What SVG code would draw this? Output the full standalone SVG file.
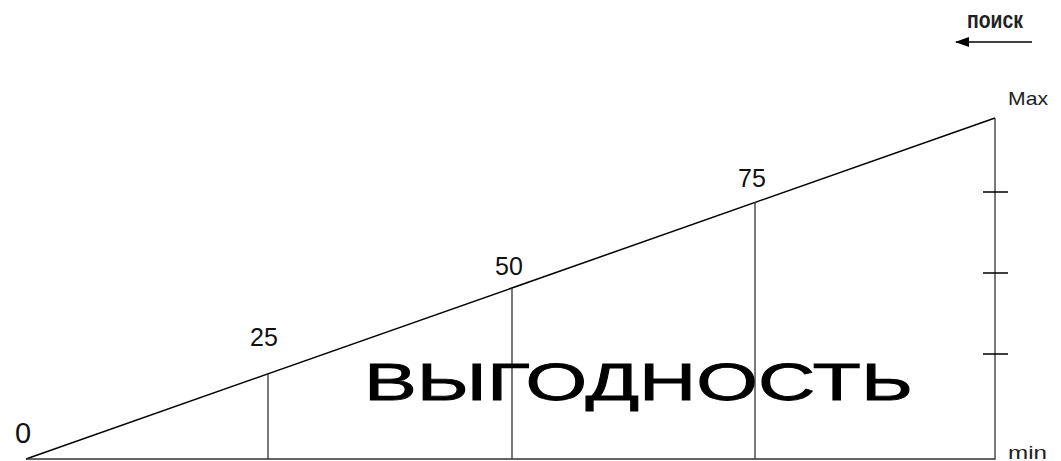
<svg xmlns="http://www.w3.org/2000/svg" width="1061" height="461" viewBox="0 0 1061 461">
<style>
.ln{stroke:#000;stroke-width:1.5;fill:none}
.gl{stroke:#333;stroke-width:1.3;fill:none}
.lbl{font-family:"Liberation Sans",Arial,sans-serif;font-size:25px;fill:#111}
.sm{font-family:"Liberation Sans",Arial,sans-serif;font-size:19px;fill:#222}
</style>
<defs>
<marker id="ah" markerWidth="14" markerHeight="10" refX="13" refY="5" orient="auto" markerUnits="userSpaceOnUse">
<path d="M0,0 L14,5 L0,10 Z" fill="#000"/>
</marker>
</defs>
<rect width="1061" height="461" fill="#fff"/>
<g id="connectors">
<path class="ln" d="M26,459 L995,118"/>
<path class="gl" d="M26,459 L995,459 L995,118"/>
<path class="gl" d="M268,374 V459 M512,288 V459 M755,202 V459"/>
<path class="ln" d="M983,192 H1008 M983,273 H1008 M983,354 H1008"/>
<path class="ln" d="M1032,42 H956" marker-end="url(#ah)" stroke-width="2"/>
</g>
<g id="labels">
<text x="15" y="443" font-family="Liberation Sans,Arial,sans-serif" font-size="29" fill="#111">0</text>
<text class="lbl" x="250" y="346">25</text>
<text class="lbl" x="495" y="275">50</text>
<text class="lbl" x="738" y="187">75</text>
<text class="sm" x="1008" y="105" textLength="40" lengthAdjust="spacingAndGlyphs">Max</text>
<text class="sm" x="1008" y="459" textLength="39" lengthAdjust="spacingAndGlyphs">min</text>
<text x="967" y="28" font-family="Liberation Sans Narrow,Liberation Sans,sans-serif" font-size="24" font-weight="bold" fill="#222" textLength="56" lengthAdjust="spacingAndGlyphs">поиск</text>
</g>
<g id="title">
<text x="364" y="400" font-family="Liberation Sans,Arial,sans-serif" font-size="52" fill="#000" stroke="#000" stroke-width="0.8" textLength="549" lengthAdjust="spacingAndGlyphs">ВЫГОДНОСТЬ</text>
</g>
</svg>
